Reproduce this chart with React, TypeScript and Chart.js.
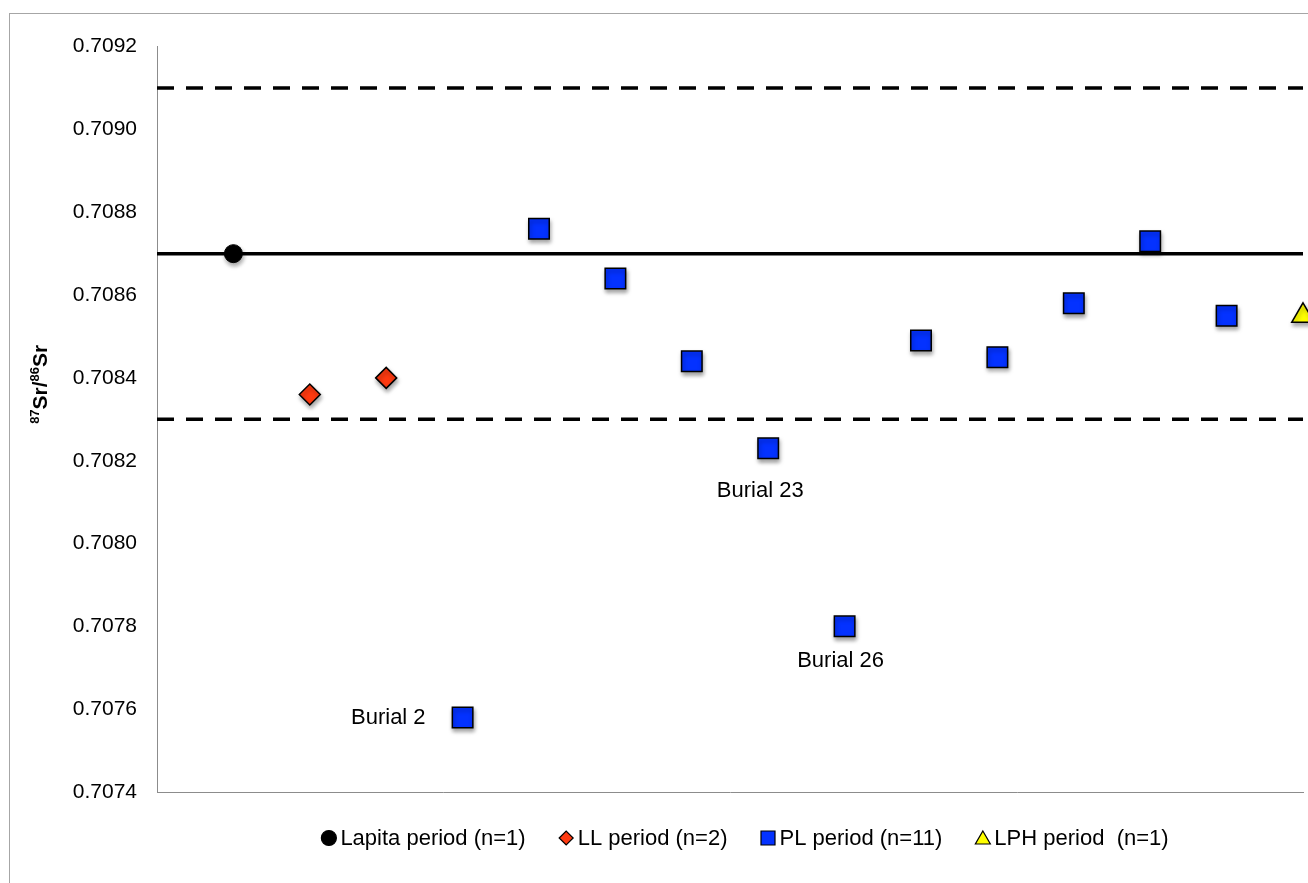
import React, { useEffect, useRef } from 'react';
import { Chart, registerables } from 'chart.js';

Chart.register(...registerables);

const FONT = "'Liberation Sans', Arial, Helvetica, sans-serif";

// ---- data ----
const seriesNames = ['Lapita period (n=1)', 'LL period (n=2)', 'PL period (n=11)', 'LPH period  (n=1)'];
const lapitaX = [1];
const lapitaY = [0.7087];
const llX = [2, 3];
const llY = [0.70836, 0.7084];
const plX = [4, 5, 6, 7, 8, 9, 10, 11, 12, 13, 14];
const plY = [0.70758, 0.70876, 0.70864, 0.70844, 0.70823, 0.7078, 0.70849, 0.70845, 0.70858, 0.70873, 0.70855];
const lphX = [15];
const lphY = [0.70855];
const refLineX = [0, 15];
const meanValue = 0.7087;
const upperValue = 0.7091;
const lowerValue = 0.7083;
const yTicks = [0.7074, 0.7076, 0.7078, 0.708, 0.7082, 0.7084, 0.7086, 0.7088, 0.709, 0.7092];
const burialIndex = [0, 4, 5];
const burialText = ['Burial 2', 'Burial 23', 'Burial 26'];

const colors = ['#000000', '#ff3a10', '#0432ff', '#ffff00'];
const styles = ['circle', 'rectRot', 'rect', 'triangle'];

const toPts = (xs: number[], ys: number[]) => xs.map((x, i) => ({ x, y: ys[i] }));
const lineAt = (v: number) => refLineX.map((x) => ({ x, y: v }));

function drawMarker(ctx: CanvasRenderingContext2D, style: string, cx: number, cy: number, fill: string) {
  ctx.save();
  ctx.fillStyle = fill;
  ctx.strokeStyle = '#000';
  ctx.lineWidth = 1.2;
  ctx.beginPath();
  if (style === 'circle') {
    ctx.arc(cx, cy, 7.5, 0, Math.PI * 2);
  } else if (style === 'rectRot') {
    ctx.moveTo(cx - 7, cy);
    ctx.lineTo(cx, cy - 7);
    ctx.lineTo(cx + 7, cy);
    ctx.lineTo(cx, cy + 7);
    ctx.closePath();
  } else if (style === 'rect') {
    ctx.rect(cx - 7, cy - 7, 14, 14);
  } else {
    ctx.moveTo(cx, cy - 7);
    ctx.lineTo(cx + 7.5, cy + 6);
    ctx.lineTo(cx - 7.5, cy + 6);
    ctx.closePath();
  }
  ctx.fill();
  ctx.stroke();
  ctx.restore();
}

const shadowPlugin = {
  id: 'pointShadow',
  beforeDatasetDraw(chart: any, args: any) {
    if (args.index < 4) {
      const ctx = chart.ctx;
      ctx.save();
      ctx.shadowColor = 'rgba(0,0,0,0.35)';
      ctx.shadowBlur = 4;
      ctx.shadowOffsetX = 1;
      ctx.shadowOffsetY = 3;
    }
  },
  afterDatasetDraw(chart: any, args: any) {
    if (args.index < 4) chart.ctx.restore();
  },
};

const decorPlugin = {
  id: 'decor',
  afterDraw(chart: any) {
    const ctx: CanvasRenderingContext2D = chart.ctx;
    const ca = chart.chartArea;

    // y-axis title with superscripts
    ctx.save();
    const cy = (ca.top + ca.bottom) / 2 - 35;
    ctx.translate(37, cy);
    ctx.rotate(-Math.PI / 2);
    const parts = [
      { t: '87', sup: true },
      { t: 'Sr/', sup: false },
      { t: '86', sup: true },
      { t: 'Sr', sup: false },
    ];
    const big = `bold 21px ${FONT}`;
    const small = `bold 13px ${FONT}`;
    let total = 0;
    for (const p of parts) {
      ctx.font = p.sup ? small : big;
      total += ctx.measureText(p.t).width;
    }
    let u = -total / 2;
    ctx.fillStyle = '#000';
    ctx.textBaseline = 'alphabetic';
    ctx.textAlign = 'left';
    for (const p of parts) {
      ctx.font = p.sup ? small : big;
      ctx.fillText(p.t, u, p.sup ? -8 : 0);
      u += ctx.measureText(p.t).width;
    }
    ctx.restore();

    // legend
    ctx.save();
    ctx.font = `22px ${FONT}`;
    ctx.fillStyle = '#000';
    ctx.textBaseline = 'middle';
    ctx.textAlign = 'left';
    const widths = seriesNames.map((t) => ctx.measureText(t).width);
    const markerW = 15;
    const markerGap = 4;
    const itemGap = 33;
    const legTotal = widths.reduce((a, w) => a + markerW + markerGap + w, 0) + itemGap * (seriesNames.length - 1);
    let x = (ca.left + ca.right) / 2 + 15 - legTotal / 2;
    const ly = ca.bottom + 46;
    seriesNames.forEach((name, i) => {
      drawMarker(ctx, styles[i], x + markerW / 2, ly, colors[i]);
      x += markerW + markerGap;
      ctx.fillStyle = '#000';
      ctx.fillText(name, x, ly + 1);
      x += widths[i] + itemGap;
    });
    ctx.restore();

    // burial labels
    const meta = chart.getDatasetMeta(2);
    ctx.save();
    ctx.font = `22px ${FONT}`;
    ctx.fillStyle = '#000';
    ctx.textBaseline = 'middle';
    burialIndex.forEach((idx, i) => {
      const el = meta.data[idx];
      if (!el) return;
      if (i === 0) {
        ctx.textAlign = 'right';
        ctx.fillText(burialText[i], el.x - 37, el.y);
      } else if (i === 1) {
        ctx.textAlign = 'center';
        ctx.fillText(burialText[i], el.x - 8, el.y + 43);
      } else {
        ctx.textAlign = 'center';
        ctx.fillText(burialText[i], el.x - 4, el.y + 35);
      }
    });
    ctx.restore();
  },
};

export default function App() {
  const ref = useRef<HTMLCanvasElement | null>(null);

  useEffect(() => {
    if (!ref.current) return;
    const pointDs = [
      { x: lapitaX, y: lapitaY, r: 9 },
      { x: llX, y: llY, r: 10.5 },
      { x: plX, y: plY, r: 14.5 },
      { x: lphX, y: lphY, r: 13 },
    ].map((d, i) => ({
      label: seriesNames[i],
      data: toPts(d.x, d.y),
      pointStyle: styles[i],
      pointRadius: d.r,
      pointBackgroundColor: colors[i],
      pointBorderColor: '#000',
      pointBorderWidth: i === 0 ? 1 : 1.5,
      showLine: false,
      clip: false as any,
    }));
    const lineDs = [
      { v: meanValue, dash: [] as number[] },
      { v: upperValue, dash: [17, 12] },
      { v: lowerValue, dash: [17, 12] },
    ].map((l) => ({
      label: '',
      data: lineAt(l.v),
      showLine: true,
      borderColor: '#000',
      borderWidth: 3.5,
      borderDash: l.dash,
      pointRadius: 0,
      fill: false,
      clip: false as any,
    }));

    const chart = new Chart(ref.current, {
      type: 'scatter',
      data: { datasets: [...pointDs, ...lineDs] as any },
      options: {
        animation: false,
        responsive: true,
        maintainAspectRatio: false,
        events: [],
        layout: { autoPadding: false, padding: { top: 30, right: 5, bottom: 91, left: 0 } },
        plugins: {
          legend: { display: false },
          tooltip: { enabled: false },
          title: { display: false },
        },
        scales: {
          x: {
            type: 'linear',
            min: 0,
            max: 15,
            grid: { display: false, drawTicks: false },
            ticks: { display: false },
            border: { display: true, color: '#8c8c8c', width: 1 },
            afterFit: (s: any) => {
              s.height = 0;
            },
          },
          y: {
            type: 'linear',
            min: 0.7074,
            max: 0.7092,
            afterBuildTicks: (s: any) => {
              s.ticks = yTicks.map((v) => ({ value: v }));
            },
            grid: { display: false, drawTicks: false },
            border: { display: true, color: '#8c8c8c', width: 1 },
            ticks: {
              padding: 20,
              color: '#000',
              font: { family: FONT, size: 21 },
              callback: (v: any) => Number(v).toFixed(4),
            },
            afterFit: (s: any) => {
              s.width = 147;
            },
          },
        },
      } as any,
      plugins: [shadowPlugin, decorPlugin],
    });
    return () => chart.destroy();
  }, []);

  return (
    <div style={{ position: 'fixed', left: 0, top: 0, width: 1308, height: 883, overflow: 'hidden', background: '#fff' }}>
      <div
        style={{
          position: 'absolute',
          left: 9,
          top: 13,
          width: 1400,
          height: 1000,
          border: '1px solid #a6a6a6',
          boxSizing: 'border-box',
        }}
      />
      <div style={{ position: 'absolute', left: 10, top: 14, width: 1298, height: 869 }}>
        <canvas ref={ref} />
      </div>
    </div>
  );
}
